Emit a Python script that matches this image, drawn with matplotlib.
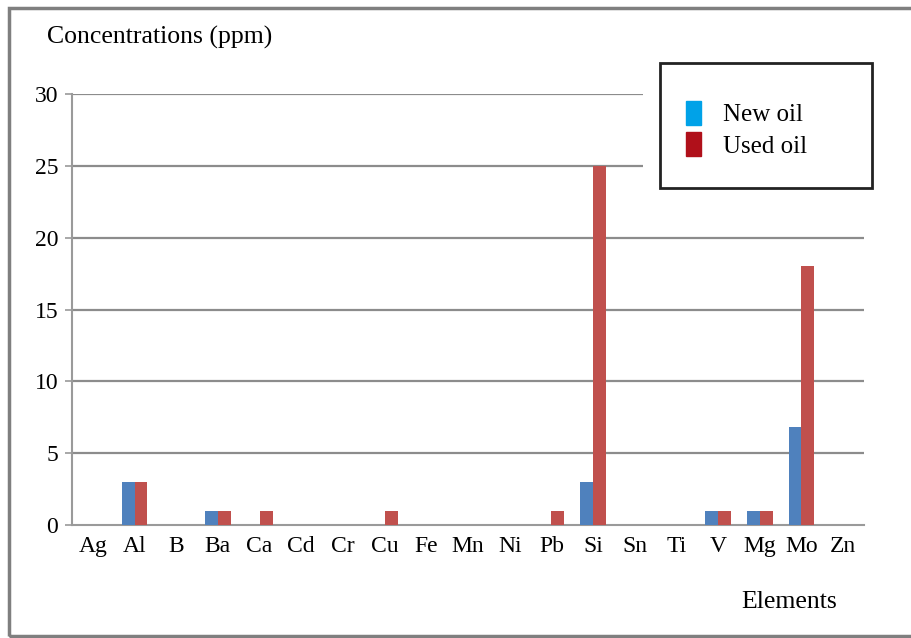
import matplotlib
matplotlib.use('Agg')
import matplotlib.pyplot as plt
from matplotlib.patches import Rectangle, Patch
import numpy as np

plt.rcParams['font.family'] = ['Liberation Serif', 'DejaVu Serif']

elements = ['Ag', 'Al', 'B', 'Ba', 'Ca', 'Cd', 'Cr', 'Cu', 'Fe', 'Mn',
            'Ni', 'Pb', 'Si', 'Sn', 'Ti', 'V', 'Mg', 'Mo', 'Zn']
new_oil = [0, 3, 0, 1, 0, 0, 0, 0, 0, 0, 0, 0, 3, 0, 0, 1, 1, 6.8, 0]
used_oil = [0, 3, 0, 1, 1, 0, 0, 1, 0, 0, 0, 1, 25, 0, 0, 1, 1, 18, 0]
yticks = [0, 5, 10, 15, 20, 25, 30]

W, H = 911, 638
fig = plt.figure(figsize=(W / 100, H / 100), dpi=100)
ax = fig.add_axes([72 / W, 1 - 525 / H, 792 / W, (525 - 94) / H])

x = np.arange(len(elements))
bw = 0.31
ax.bar(x - bw / 2, new_oil, bw, color='#4f81bd', zorder=3)
ax.bar(x + bw / 2, used_oil, bw, color='#c0504d', zorder=3)

ax.set_xlim(-0.5, len(elements) - 0.5)
ax.set_ylim(0, 30)

# gridlines; the top two stop short of the legend box
for t in yticks[1:]:
    xmax = 0.721 if t >= 25 else 1.0
    ax.hlines(t, -0.5, -0.5 + xmax * len(elements), color='#8c8c8c',
              lw=1.6, zorder=1)

for s in ['top', 'right']:
    ax.spines[s].set_visible(False)
for s in ['left', 'bottom']:
    ax.spines[s].set_color('#9a9a9a')
    ax.spines[s].set_linewidth(1.5)

ax.set_yticks(yticks)
ax.set_xticks(x)
ax.set_xticklabels(elements)
ax.tick_params(axis='y', length=5, color='#9a9a9a', width=1.2, pad=5,
               labelsize=17)
ax.tick_params(axis='x', length=0, pad=8, labelsize=17)

fig.text(47 / W, 1 - 37 / H, 'Concentrations (ppm)', fontsize=18.5,
         ha='left', va='center')
fig.text(741 / W, 1 - 602 / H, 'Elements', fontsize=18.5,
         ha='left', va='center')

# legend box
fig.patches.append(Rectangle((660 / W, 1 - 188 / H), 212 / W, 125 / H,
                             transform=fig.transFigure, fill=True,
                             facecolor='white', edgecolor='#222222',
                             lw=2, zorder=5))
handles = [Patch(color='#00a2e8', label='New oil'),
           Patch(color='#b0101a', label='Used oil')]
leg = fig.legend(handles=handles, loc='upper left',
                 bbox_to_anchor=(663 / W, 1 - 78 / H), frameon=False,
                 fontsize=18, handlelength=0.6, handleheight=1.1,
                 handletextpad=0.9, labelspacing=0.25)
leg.set_zorder(6)

# outer frame
fig.patches.append(Rectangle((9 / W, 2 / H), 905 / W, 628 / H,
                             transform=fig.transFigure, fill=False,
                             edgecolor='#7f7f7f', lw=2.5))

fig.savefig('out.png', dpi=100)
